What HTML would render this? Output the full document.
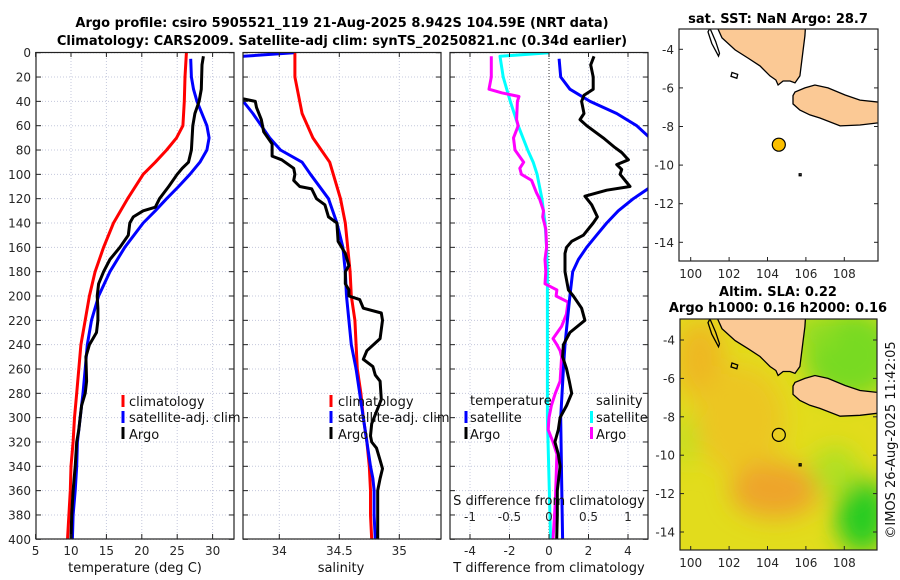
<!DOCTYPE html>
<html><head><meta charset="utf-8">
<style>
html,body{margin:0;padding:0;background:#fff;}
svg{display:block;font-family:"DejaVu Sans","Liberation Sans",sans-serif;}
.tk{font-size:12px;fill:#262626;}
.ttl{font-size:13px;font-weight:bold;fill:#000;}
.lg{font-size:13px;fill:#111;}
</style></head>
<body>
<svg id="chart" width="900" height="580" viewBox="0 0 900 580">
<defs>
<clipPath id="c1"><rect x="36" y="52" width="198" height="487"/></clipPath>
<clipPath id="c2"><rect x="243" y="52" width="198" height="487"/></clipPath>
<clipPath id="c3"><rect x="450" y="52" width="198" height="487"/></clipPath>
<clipPath id="cm1"><rect x="679" y="29" width="199" height="232"/></clipPath>
<clipPath id="cm2"><rect x="680" y="319" width="197" height="231"/></clipPath>
<filter id="blur" x="-50%" y="-50%" width="200%" height="200%"><feGaussianBlur stdDeviation="12"/></filter>
</defs>
<text class="ttl" x="342" y="27" text-anchor="middle">Argo profile: csiro 5905521_119 21-Aug-2025 8.942S 104.59E (NRT data)</text>
<text class="ttl" x="342" y="45" text-anchor="middle">Climatology: CARS2009. Satellite-adj clim: synTS_20250821.nc (0.34d earlier)</text>
<g id="grid"></g>
<g id="series"></g>
<g id="frames"></g>
<g id="legends">
<rect x="121.5" y="395" width="3" height="12" fill="#f00"/>
<text class="lg" x="129" y="406">climatology</text>
<rect x="121.5" y="411" width="3" height="12" fill="#00f"/>
<text class="lg" x="129" y="422">satellite-adj. clim</text>
<rect x="121.5" y="427" width="3" height="12" fill="#000"/>
<text class="lg" x="129" y="439">Argo</text>

<rect x="329.5" y="395" width="3" height="12" fill="#f00"/>
<text class="lg" x="338" y="406">climatology</text>
<rect x="329.5" y="411" width="3" height="12" fill="#00f"/>
<text class="lg" x="338" y="422">satellite-adj. clim</text>
<rect x="329.5" y="427" width="3" height="12" fill="#000"/>
<text class="lg" x="338" y="439">Argo</text>

<text class="lg" x="470" y="405">temperature</text>
<rect x="464.5" y="411" width="3" height="12" fill="#00f"/>
<text class="lg" x="470" y="422">satellite</text>
<rect x="464.5" y="427" width="3" height="12" fill="#000"/>
<text class="lg" x="470" y="439">Argo</text>
<text class="lg" x="596" y="405">salinity</text>
<rect x="590" y="411" width="3" height="12" fill="#0ff"/>
<text class="lg" x="596" y="422">satellite</text>
<rect x="590" y="427" width="3" height="12" fill="#f0f"/>
<text class="lg" x="596" y="439">Argo</text>
</g>
<text class="lg" x="135" y="572" text-anchor="middle" fill="#262626">temperature (deg C)</text>
<text class="lg" x="341" y="572" text-anchor="middle" fill="#262626">salinity</text>
<text class="lg" x="549" y="572" text-anchor="middle" fill="#262626">T difference from climatology</text>
<text class="lg" x="549" y="505" text-anchor="middle" fill="#262626">S difference from climatology</text>

<text class="ttl" x="778" y="23" text-anchor="middle">sat. SST: NaN Argo: 28.7</text>
<text class="ttl" x="778" y="296" text-anchor="middle">Altim. SLA: 0.22</text>
<text class="ttl" x="778" y="312" text-anchor="middle">Argo h1000: 0.16 h2000: 0.16</text>
<g id="maps"></g>
<text class="lg" transform="translate(895,440) rotate(-90)" text-anchor="middle" fill="#262626">©IMOS 26-Aug-2025 11:42:05</text>
</svg>
<script>
// ---- data: temperature panel ----
const climDepthT=[0,20,40,60,70,80,90,100,120,140,160,180,200,220,240,260,280,300,320,340,360,380,400];
const climTemp=[26.3,26.1,26.0,25.8,24.9,23.5,21.9,20.2,18.0,16.0,14.6,13.4,12.6,12.0,11.4,11.1,10.8,10.5,10.3,10.0,9.9,9.7,9.5];
const satDepthT=[5,20,30,40,60,70,80,90,100,110,120,130,140,160,180,200,220,240,260,280,300,320,340,360,380,400];
const satTemp=[26.9,27.0,27.3,27.8,29.2,29.5,29.2,28.2,26.8,25.2,23.5,21.9,20.2,17.6,15.5,13.9,12.9,12.3,12.0,11.7,11.3,10.9,10.8,10.6,10.3,10.2];
const argoDepthT=[3,10,30,40,50,60,70,80,90,95,100,110,120,127,130,135,140,150,160,170,180,190,200,210,220,230,240,250,270,280,290,300,310,320,340,360,380,400];
const argoTemp=[28.7,28.5,28.4,28.1,27.5,27.2,27.1,27.0,26.6,25.7,25.0,23.8,22.5,21.9,20.2,18.8,18.3,18.1,16.9,15.5,14.6,13.9,13.7,13.8,13.8,13.6,12.6,12.1,12.2,12.0,11.5,11.3,11.1,10.8,10.6,10.3,10.1,10.0];
// ---- data: salinity panel ----
const climDepthS=[0,20,50,70,90,100,120,140,160,180,200,220,240,260,280,300,320,340,360,380,400];
const climSal=[34.13,34.13,34.19,34.28,34.42,34.45,34.51,34.55,34.57,34.59,34.60,34.63,34.64,34.65,34.68,34.70,34.73,34.75,34.76,34.76,34.77];
const satDepthS=[0,3,10,20,30,40,50,60,70,80,90,100,120,140,160,180,200,220,240,260,280,300,320,340,350,360,380,400];
const satSal=[34.12,33.70,33.5,33.5,33.5,33.70,33.78,33.85,33.92,34.01,34.19,34.26,34.41,34.48,34.53,34.55,34.56,34.58,34.60,34.64,34.67,34.70,34.73,34.76,34.78,34.79,34.79,34.80];
const argoDepthS=[38,40,45,55,65,75,85,88,95,100,105,110,112,120,125,135,140,155,165,175,180,190,195,200,203,210,214,220,235,245,252,258,265,270,285,295,305,315,320,325,335,342,350,360,380,400];
const argoSal=[33.70,33.80,33.81,33.85,33.87,33.94,33.94,34.02,34.12,34.13,34.12,34.17,34.27,34.31,34.38,34.41,34.48,34.49,34.55,34.58,34.55,34.55,34.58,34.58,34.67,34.70,34.85,34.86,34.84,34.73,34.70,34.78,34.80,34.84,34.85,34.81,34.77,34.76,34.77,34.81,34.84,34.86,34.84,34.82,34.82,34.82];
// ---- data: difference panel ----
const satDepthDT=[5,20,30,40,50,60,70,80,100,112,120,130,140,150,160,170,180,200,220,240,260,300,350,400];
const satDT=[0.51,0.59,1.06,2.08,3.43,4.44,5.11,6.5,6.5,5.0,4.27,3.51,2.92,2.41,1.91,1.49,1.20,1.06,0.93,0.81,0.73,0.59,0.64,0.69];
const argoDepthDT=[3,10,20,30,35,40,50,55,60,70,78,82,88,92,96,100,110,113,118,125,135,140,150,155,160,165,180,195,200,210,220,230,240,250,260,270,280,290,300,310,320,330,340,360,380,400];
const argoDT=[2.28,2.11,2.24,2.24,1.77,1.65,1.77,1.57,1.91,2.75,3.34,3.68,4.02,3.43,3.68,3.60,4.10,2.92,1.82,2.16,2.45,2.24,1.74,1.15,0.89,0.81,0.81,0.98,1.23,1.65,1.82,1.06,0.73,0.69,0.89,1.03,1.15,0.89,0.56,0.47,0.30,0.47,0.56,0.42,0.42,0.39];
const satDepthDS=[0,3,20,40,60,80,90,100,120,140,160,180,200,250,300,350,400];
const satDS=[0,-0.62,-0.58,-0.49,-0.39,-0.27,-0.20,-0.15,-0.09,-0.05,-0.03,-0.02,-0.02,-0.02,-0.02,0,0.02];
const argoDepthDS=[3,10,20,30,33,36,40,55,60,70,80,90,95,100,105,115,120,130,135,145,160,170,180,190,195,200,205,215,225,235,240,245,250,270,280,290,300,310,320,330,350,370,400];
const argoDS=[-0.73,-0.73,-0.73,-0.76,-0.60,-0.38,-0.40,-0.41,-0.39,-0.45,-0.43,-0.32,-0.37,-0.35,-0.22,-0.16,-0.12,-0.07,-0.08,-0.04,-0.03,-0.05,-0.04,-0.05,0.10,0.09,0.24,0.22,0.16,0.05,0.10,0.14,0.16,0.14,0.08,0.03,0,-0.01,0.05,0.10,0.09,0.08,0.05];
// ---- ticks ----
const depthTicks=[0,20,40,60,80,100,120,140,160,180,200,220,240,260,280,300,320,340,360,380,400];
const tempTicks=[5,10,15,20,25,30];
const salTicks=[34,34.5,35];
const dtTicks=[-4,-2,0,2,4];
const dsTicks=[-1,-0.5,0,0.5,1];
const dsTickLabels=["-1","-0.5","0","0.5","1"];
const latTicks=[-4,-6,-8,-10,-12,-14];
const lonTicks=[100,102,104,106,108];
const argoLon=104.59, argoLat=-8.942;

const NS="http://www.w3.org/2000/svg";
function mk(tag,attrs,parent){const e=document.createElementNS(NS,tag);for(const k in attrs)e.setAttribute(k,attrs[k]);parent.appendChild(e);return e;}
const yD=d=>52.7+d*1.2165;
const xT=t=>35.6+(t-5)*7.08;
const xS=s=>279.3+(s-34)*120;
const xDT=v=>549+v*19.75;
const xDS=s=>549+s*79;
const panels=[{x0:36,clip:"c1"},{x0:243,clip:"c2"},{x0:450,clip:"c3"}];
const grid=document.getElementById('grid'), series=document.getElementById('series'), frames=document.getElementById('frames');

panels.forEach((p,i)=>{
  depthTicks.forEach(d=>{const l=mk('line',{x1:p.x0,x2:p.x0+198,y1:yD(d),y2:yD(d),stroke:'#c4c8dc','stroke-width':1,'stroke-dasharray':'1,2'},grid);
  
  });
});
function vgrid(vals,fx){vals.forEach(v=>{const l=mk('line',{x1:fx(v),x2:fx(v),y1:52,y2:539,stroke:'#c4c8dc','stroke-width':1,'stroke-dasharray':'1,2'},grid);
  
  });}
vgrid(tempTicks.slice(1),xT);vgrid(salTicks,xS);vgrid([-4,-2,2,4],xDT);
const zl=mk('line',{x1:549,x2:549,y1:52,y2:539,stroke:'#333','stroke-width':1,'stroke-dasharray':'1,2'},grid);



function line(ds,vs,fx,color,clip,name,w){
  const pts=ds.map((d,i)=>fx(vs[i]).toFixed(1)+','+yD(d).toFixed(1)).join(' ');
  const e=mk('polyline',{points:pts,fill:'none',stroke:color,'stroke-width':w||3,'stroke-linejoin':'round','clip-path':'url(#'+clip+')'},series);
  
  
}
line(climDepthT,climTemp,xT,'#f00','c1','temp-climatology-line');
line(satDepthT,satTemp,xT,'#00f','c1','temp-satellite-adj-line');
line(argoDepthT,argoTemp,xT,'#000','c1','temp-argo-line');
line(climDepthS,climSal,xS,'#f00','c2','sal-climatology-line');
line(satDepthS,satSal,xS,'#00f','c2','sal-satellite-adj-line');
line(argoDepthS,argoSal,xS,'#000','c2','sal-argo-line');
line(satDepthDS,satDS,xDS,'#0ff','c3','sdiff-satellite-line');
line(argoDepthDS,argoDS,xDS,'#f0f','c3','sdiff-argo-line');
line(satDepthDT,satDT,xDT,'#00f','c3','tdiff-satellite-line');
line(argoDepthDT,argoDT,xDT,'#000','c3','tdiff-argo-line');

panels.forEach((p,i)=>{
  const r=mk('rect',{x:p.x0,y:52.5,width:198,height:486.5,fill:'none',stroke:'#222','stroke-width':1.2},frames);
  
  
  depthTicks.forEach(d=>{
    mk('line',{x1:p.x0,x2:p.x0+5,y1:yD(d),y2:yD(d),stroke:'#222'},frames);
    mk('line',{x1:p.x0+193,x2:p.x0+198,y1:yD(d),y2:yD(d),stroke:'#222'},frames);
  });
});
depthTicks.forEach(d=>{const t=mk('text',{x:31,y:yD(d)+4.5,'text-anchor':'end',class:'tk'},frames);t.textContent=d;
  
  });
function xticks(vals,labels,fx,y){vals.forEach((v,i)=>{
  mk('line',{x1:fx(v),x2:fx(v),y1:539,y2:534,stroke:'#222'},frames);
  mk('line',{x1:fx(v),x2:fx(v),y1:52,y2:57,stroke:'#222'},frames);
  const t=mk('text',{x:fx(v),y:y,'text-anchor':'middle',class:'tk'},frames);t.textContent=labels[i];
  
  });}
xticks(tempTicks,tempTicks.map(String),xT,555);
xticks(salTicks,["34","34.5","35"],xS,555);
xticks(dtTicks,dtTicks.map(String),xDT,555);
dsTicks.forEach((v,i)=>{const t=mk('text',{x:xDS(v),y:521,'text-anchor':'middle',class:'tk'},frames);t.textContent=dsTickLabels[i];
  
  });

// maps
const maps=document.getElementById('maps');
const lx=lon=>690.7+(lon-100)*19.2;
const m1y=lat=>49.3+(-4-lat)*19.3;
const m2y=lat=>340+(-4-lat)*19.2;
const sumatra=[[101.3,-2.5],[101.42,-2.95],[101.63,-3.41],[102.31,-4.03],[102.98,-4.45],[103.61,-4.86],[104.13,-5.38],[104.44,-5.59],[104.55,-5.85],[104.81,-5.64],[105.17,-5.64],[105.43,-5.74],[105.69,-5.38],[105.85,-4.09],[105.95,-3.31],[106.0,-2.5]];
const java=[[105.33,-6.4],[105.43,-6.21],[105.95,-6.0],[106.47,-5.85],[107.15,-6.0],[108.04,-6.37],[108.82,-6.63],[110.2,-6.78],[110.2,-7.82],[109.7,-7.82],[108.82,-7.92],[107.78,-7.97],[106.73,-7.56],[106.21,-7.40],[105.69,-7.15],[105.33,-6.83]];
const islands=[[[101.0,-2.9],[101.3,-3.6],[101.5,-4.2],[101.45,-4.35],[101.1,-3.7],[100.9,-3.1]],[[102.15,-5.2],[102.45,-5.3],[102.4,-5.5],[102.1,-5.4]],[[105.65,-10.45],[105.75,-10.45],[105.75,-10.55],[105.65,-10.55]]];
function drawMap(fy,clip,top,h,x0,w,mapName){
  const g=mk('g',{'clip-path':'url(#'+clip+')'},maps);
  
  
  if(mapName==='sla-map'){
    mk('rect',{x:x0,y:top,width:w,height:h,fill:'#e2dc1c'},g);
    const hb=mk('g',{filter:'url(#blur)'},g);
    mk('ellipse',{cx:700,cy:360,rx:25,ry:40,fill:'#eeb822'},hb);
    mk('ellipse',{cx:740,cy:420,rx:45,ry:55,fill:'#ecc624'},hb);
    mk('ellipse',{cx:775,cy:490,rx:45,ry:28,fill:'#eea42a'},hb);
    mk('ellipse',{cx:850,cy:355,rx:48,ry:45,fill:'#78da20'},hb);
    mk('ellipse',{cx:815,cy:330,rx:22,ry:18,fill:'#90dc20'},hb);
    mk('ellipse',{cx:685,cy:440,rx:12,ry:25,fill:'#c0e020'},hb);
    mk('ellipse',{cx:862,cy:515,rx:26,ry:38,fill:'#28cc20'},hb);
    mk('ellipse',{cx:835,cy:470,rx:24,ry:24,fill:'#b0e020'},hb);
  } else mk('rect',{x:x0,y:top,width:w,height:h,fill:'#fff'},g);
  [sumatra,java].forEach((poly,i)=>{
    const e=mk('polygon',{points:poly.map(p=>lx(p[0]).toFixed(1)+','+fy(p[1]).toFixed(1)).join(' '),fill:'#fbc995',stroke:'#000','stroke-width':1.3},g);
    
    
  });
  islands.forEach(poly=>{
    const e=mk('polygon',{points:poly.map(p=>lx(p[0]).toFixed(1)+','+fy(p[1]).toFixed(1)).join(' '),fill:'none',stroke:'#000','stroke-width':1.3},g);
    
    
  });
  const c=mk('circle',{cx:lx(argoLon),cy:fy(argoLat),r:6.5,fill:mapName==='sla-map'?'none':'#fbbf00',stroke:'#000','stroke-width':1.2},maps);
  
  
  const fr=mk('rect',{x:x0,y:top,width:w,height:h,fill:'none',stroke:'#222','stroke-width':1.2},maps);
  
  
  latTicks.forEach(la=>{
    mk('line',{x1:x0+w,x2:x0+w-4,y1:fy(la),y2:fy(la),stroke:'#222'},maps);
    mk('line',{x1:x0,x2:x0+4,y1:fy(la),y2:fy(la),stroke:'#222'},maps);
    const t=mk('text',{x:x0-5,y:fy(la)+4.5,'text-anchor':'end',class:'tk'},maps);t.textContent=la;
    
    
  });
  lonTicks.forEach(lo=>{
    mk('line',{x1:lx(lo),x2:lx(lo),y1:top+h,y2:top+h-4,stroke:'#222'},maps);
    const t=mk('text',{x:lx(lo),y:top+h+17,'text-anchor':'middle',class:'tk'},maps);t.textContent=lo;
    
    
  });
}
drawMap(m1y,'cm1',29,232,679,199,'sst-map');
drawMap(m2y,'cm2',319,231,680,197,'sla-map');
</script>
</body></html>
